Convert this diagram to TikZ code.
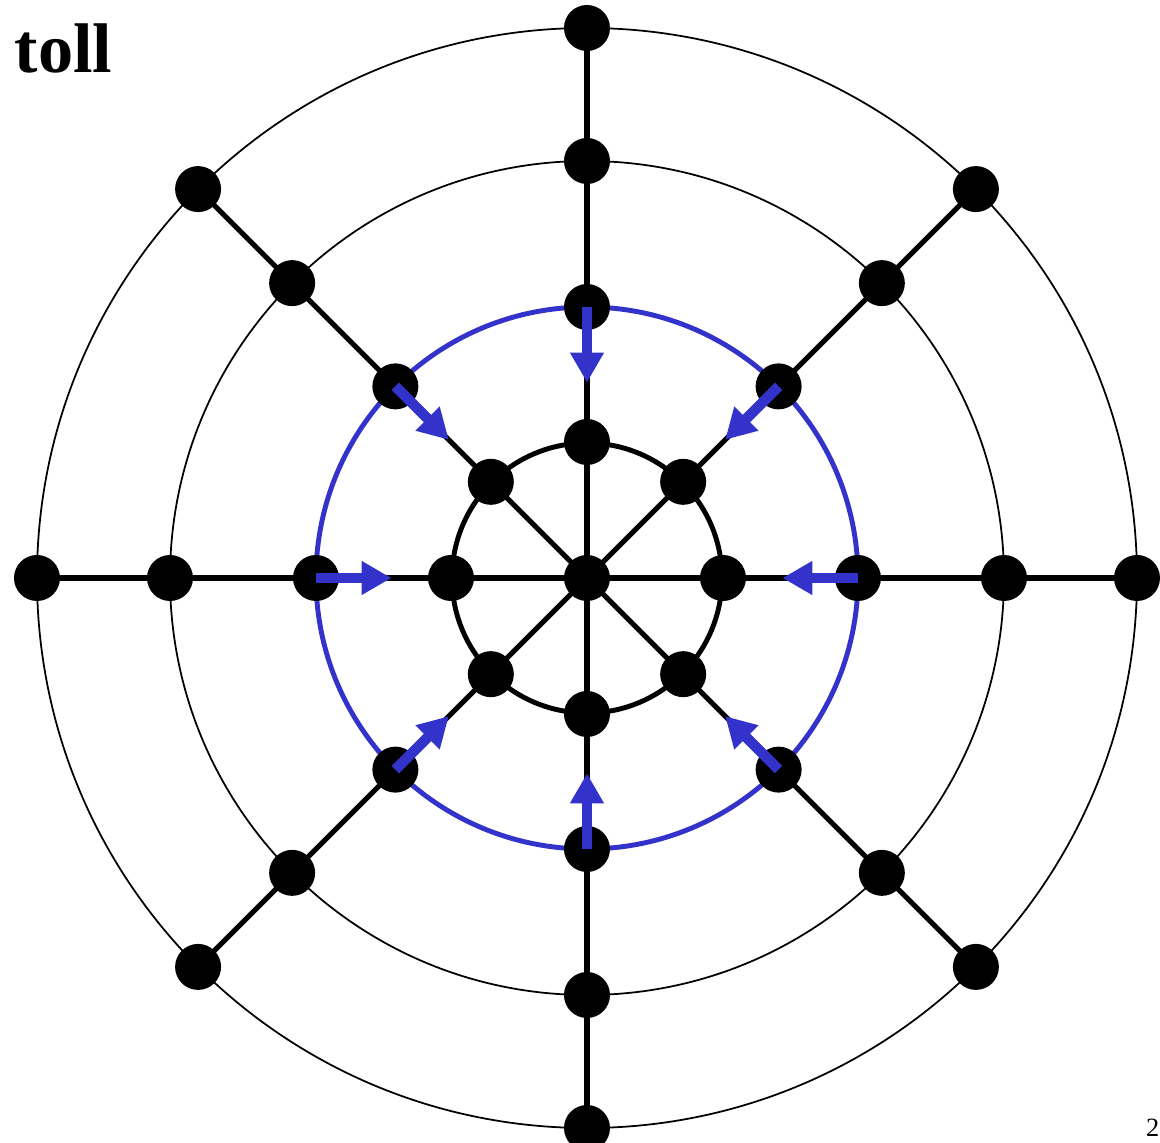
\documentclass[tikz,border=0pt]{standalone}
\usepackage{fontspec}
\setmainfont{Liberation Serif}
\usetikzlibrary{arrows.meta,positioning,calc}
\definecolor{fluxblue}{RGB}{51,51,204}
\tikzset{
  dot/.style={circle,fill=black,inner sep=0pt,minimum size=4.6mm},
  spoke/.style={line width=1.5pt},
  flux/.style={fluxblue,line width=3pt,-{Triangle[length=3mm,width=3.2mm]}},
}
\begin{document}
\begin{tikzpicture}
\useasboundingbox (-5.87,-5.65) rectangle (5.73,5.78);

% Kreise
\draw[line width=0.5pt] (0,0) circle (5.5);
\draw[line width=0.5pt] (0,0) circle (4.17);
\draw[fluxblue, line width=1.4pt] (0,0) circle (2.71);
\draw[line width=1.4pt] (0,0) circle (1.35);

% Knoten
\node[dot] (c) at (0,0) {};
\foreach \a in {0,45,...,315} {
  \node[dot] (n\a-1) at (\a:1.36) {};
  \node[dot] (n\a-2) at (\a:2.71) {};
  \node[dot] (n\a-3) at (\a:4.17) {};
  \node[dot] (n\a-4) at (\a:5.5) {};
  \draw[spoke] (c.center) -- (n\a-4.center);
}

% Pfeile nach innen
\foreach \a in {0,45,...,315}
  \draw[flux] (n\a-2.center) -- ($(n\a-2.center)!0.56!(n\a-1.center)$);

% Beschriftung
\node[font=\bfseries\fontsize{20}{24}\selectfont, anchor=base west, inner sep=0pt] (title) at (-5.73,5.05) {toll};
\node[font=\fontsize{7.5}{9}\selectfont, anchor=base east, inner sep=0pt] (page) at (5.73,-5.58) {2};
\end{tikzpicture}
\end{document}
